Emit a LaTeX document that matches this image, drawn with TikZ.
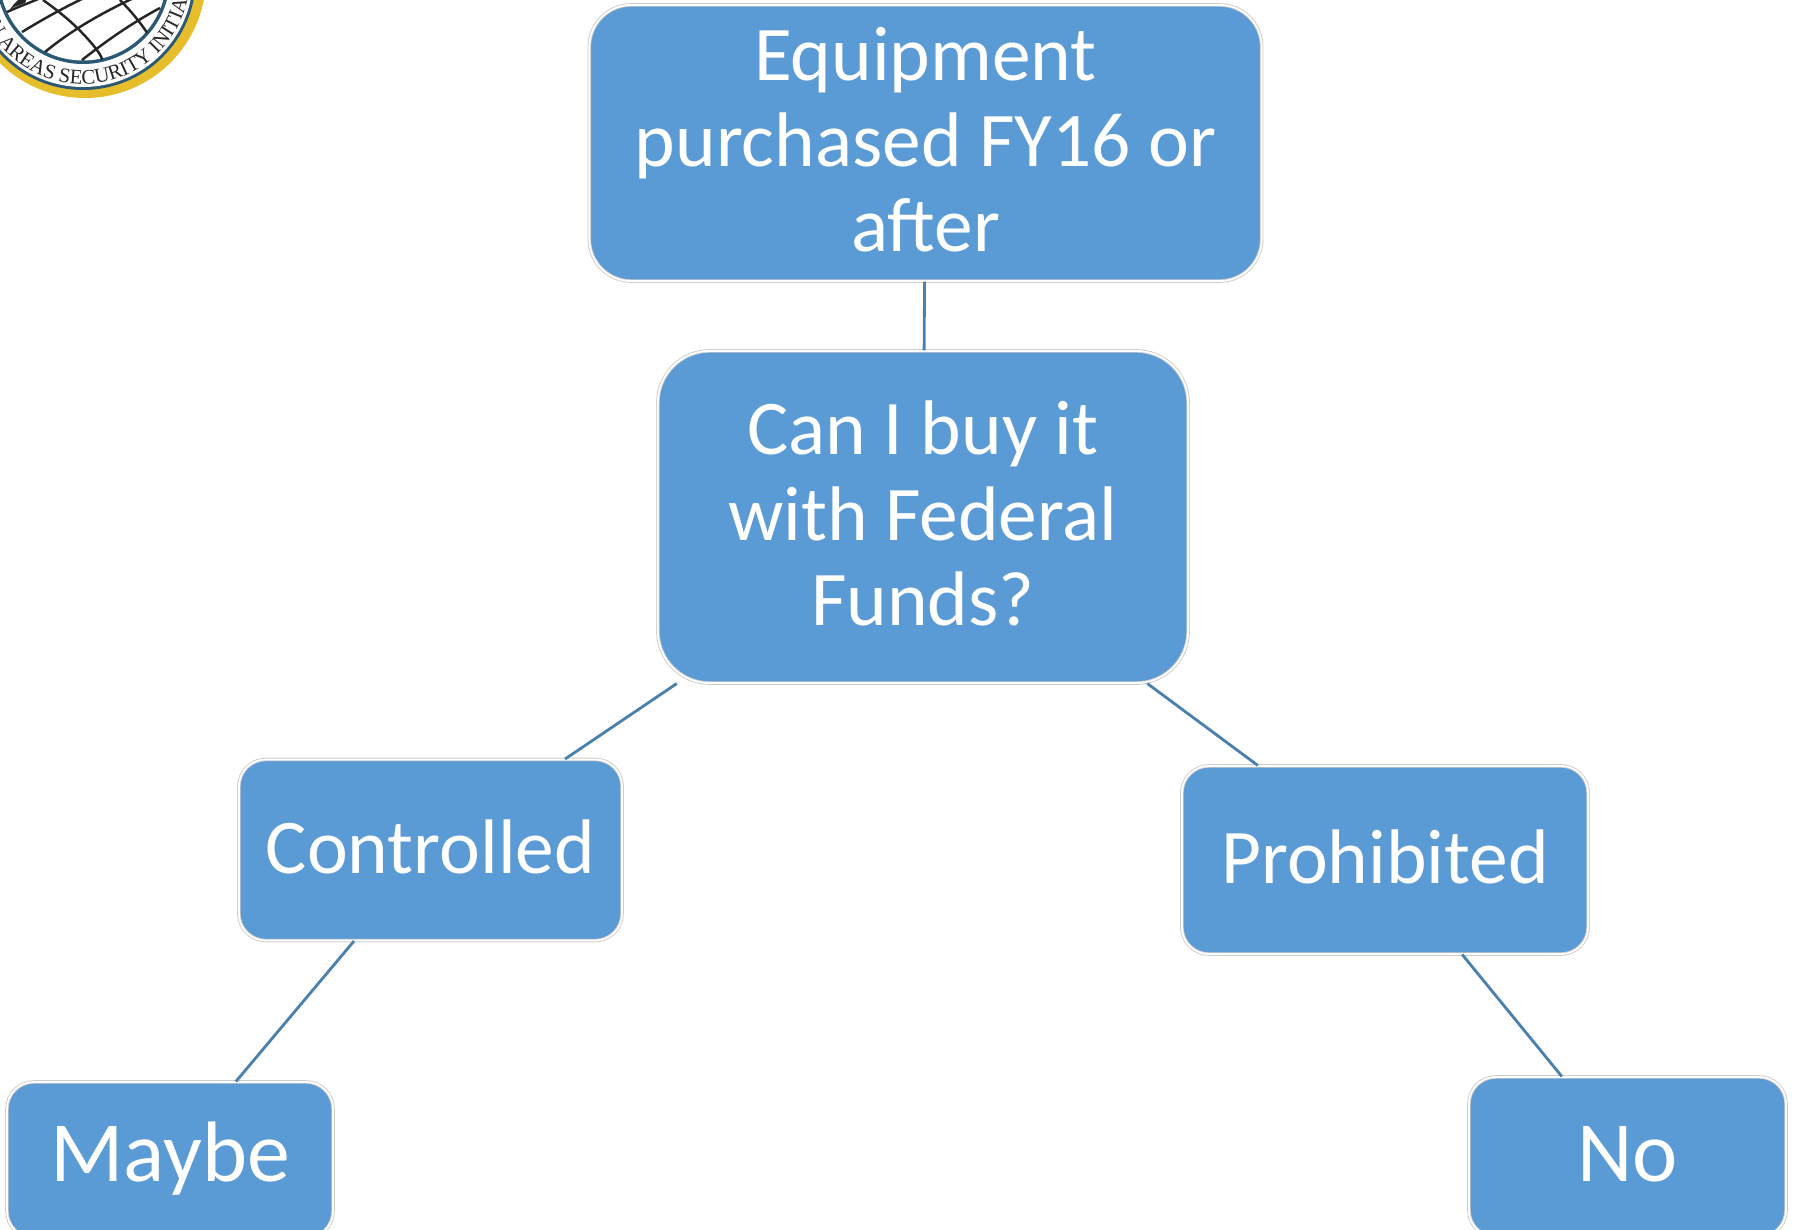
\documentclass[tikz,border=0pt]{standalone}
\usepackage{fontspec}
\setmainfont{Carlito}
\newfontfamily\logofont{Liberation Serif}
\usetikzlibrary{decorations.text}
\definecolor{boxblue}{HTML}{5B9BD5}
\definecolor{linkblue}{HTML}{4A80AE}
\definecolor{sealgold}{HTML}{E6BD2A}
\definecolor{sealblue}{HTML}{2B5875}
\tikzset{
  boxnode/.style={shape=rectangle, fill=boxblue, draw=black!20, double=white, double distance=0.5pt, line width=0.25pt, text=white, inner sep=0pt, align=center, text depth=2pt, font=\fontsize{22}{24.3}\selectfont},
  shortnode/.style={boxnode, font=\fontsize{24.4}{26}\selectfont},
  linkline/.style={-, line width=0.8pt, draw=linkblue},
  gridline/.style={line width=0.7pt, draw=black!85}
}
\begin{document}
\begin{tikzpicture}[x=0.01cm, y=-0.01cm]
\useasboundingbox (0,0) rectangle (1793,1230);
\clip (0,0) rectangle (1793,1230);
\fill[white] (0,0) rectangle (1793,1230);
% seal in the corner
\fill[sealgold] (85,-23) circle [radius=121];
\fill[sealblue] (83,-23) circle [radius=113];
\fill[white] (83,-23) circle [radius=110];
\fill[sealblue] (83,-23) circle [radius=87];
\fill[white] (83,-23) circle [radius=83.5];
\begin{scope}
\clip (83,-23) circle [radius=85];
\draw[gridline] (7,12) .. controls (20,6) and (32,2) .. (45,-4);
\draw[gridline] (22,32) .. controls (45,18) and (70,4) .. (97,-8);
\draw[gridline] (45,52) .. controls (62,38) and (90,18) .. (138,-4);
\draw[gridline] (82,60) .. controls (105,42) and (130,24) .. (160,8);
\draw[gridline] (43,0) .. controls (60,12) and (80,28) .. (97,50) .. controls (100,54) and (102,58) .. (103,62);
\draw[gridline] (120,0) .. controls (130,10) and (140,22) .. (148,34);
\fill[black!85] (8,12) -- (14,4) -- (20,-2) -- (27,-2) -- (25,3) -- (14,7) -- cycle;
\end{scope}
\path[decorate, decoration={text along path, text color=black!85, text={|\logofont\fontsize{5.9}{6.5}\selectfont|N AREAS SECURITY INITIAT}}]
  (83,-23) ++(153.5:107) arc [start angle=153.5, end angle=-40, radius=107];
% boxes
\node[boxnode, minimum width=6.72cm, minimum height=2.76cm, rounded corners=0.42cm] (equip) at (925.5,143) {Equipment\\purchased FY16 or\\after};
\node[boxnode, minimum width=5.30cm, minimum height=3.32cm, rounded corners=0.52cm] (funds) at (923,517) {Can I buy it\\with Federal\\Funds?};
\node[boxnode, minimum width=3.83cm, minimum height=1.81cm, rounded corners=0.27cm] (ctrl) at (430.5,850) {Controlled};
\node[boxnode, minimum width=4.06cm, minimum height=1.88cm, rounded corners=0.27cm] (prohib) at (1385,860) {Prohibited};
\node[shortnode, minimum width=3.26cm, minimum height=1.56cm, rounded corners=0.27cm, text depth=4.6pt] (maybe) at (170,1160) {Maybe};
\node[shortnode, minimum width=3.17cm, minimum height=1.60cm, rounded corners=0.27cm] (no) at (1627.5,1157) {No};
% links
\path [linkline] (equip) edge (funds);
\path [linkline] (funds) edge (ctrl);
\path [linkline] (funds) edge (prohib);
\path [linkline] (ctrl) edge (maybe);
\path [linkline] (prohib) edge (no);
\end{tikzpicture}
\end{document}
